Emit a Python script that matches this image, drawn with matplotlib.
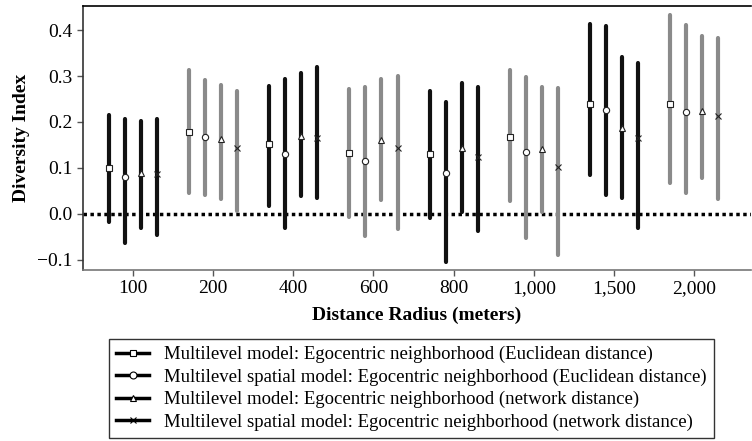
import matplotlib.pyplot as plt
import numpy as np

plt.rcParams['font.family'] = ['Liberation Serif', 'DejaVu Serif']

radius = ['100', '200', '400', '600', '800', '1,000', '1,500', '2,000']
labels = ['Multilevel model: Egocentric neighborhood (Euclidean distance)',
          'Multilevel spatial model: Egocentric neighborhood (Euclidean distance)',
          'Multilevel model: Egocentric neighborhood (network distance)',
          'Multilevel spatial model: Egocentric neighborhood (network distance)']
markers = ['s', 'o', '^', 'x']

# point estimates, lower and upper bounds per model (rows) and radius (columns)
est = np.array([
    [0.100, 0.179, 0.152, 0.133, 0.130, 0.167, 0.238, 0.238],
    [0.081, 0.168, 0.130, 0.115, 0.088, 0.135, 0.227, 0.222],
    [0.088, 0.162, 0.170, 0.160, 0.144, 0.141, 0.187, 0.223],
    [0.086, 0.143, 0.165, 0.143, 0.123, 0.103, 0.166, 0.212],
])
lower = np.array([
    [-0.017, 0.045, 0.016, -0.006, -0.009, 0.027, 0.085, 0.068],
    [-0.063, 0.041, -0.031, -0.049, -0.104, -0.053, 0.041, 0.046],
    [-0.030, 0.033, 0.038, 0.030, 0.005, 0.003, 0.035, 0.079],
    [-0.046, 0.007, 0.034, -0.033, -0.037, -0.089, -0.031, 0.032],
])
upper = np.array([
    [0.215, 0.313, 0.278, 0.271, 0.268, 0.313, 0.413, 0.433],
    [0.207, 0.291, 0.293, 0.277, 0.243, 0.297, 0.409, 0.411],
    [0.203, 0.280, 0.306, 0.293, 0.285, 0.275, 0.342, 0.388],
    [0.206, 0.267, 0.320, 0.300, 0.275, 0.273, 0.329, 0.383],
])

fig = plt.figure(figsize=(7.52, 4.41), dpi=100)
ax = fig.add_axes([0.110, 0.388, 0.889, 0.598])

xs = np.arange(1, len(radius) + 1)
offsets = [-0.3, -0.1, 0.1, 0.3]

ax.axhline(0, color='black', ls=(0, (1, 1)), lw=2.5, zorder=1)

for g in range(len(radius)):
    col = '#111111' if g % 2 == 0 else '#8a8a8a'
    for m in range(4):
        x = xs[g] + offsets[m]
        ax.plot([x, x], [lower[m, g], upper[m, g]], color=col, lw=3, zorder=2,
                solid_capstyle='round')
        ax.plot(x, est[m, g], marker=markers[m], ms=4.5, mfc='white',
                mec='#222222', mew=0.8, ls='none', zorder=3)

ax.set_xlim(0.375, 8.71)
ax.set_ylim(-0.122, 0.452)
ax.set_xticks(xs)
ax.set_xticklabels(radius)
ax.set_yticks([-0.1, 0.0, 0.1, 0.2, 0.3, 0.4])
ax.set_yticklabels(['\u22120.1', '0.0', '0.1', '0.2', '0.3', '0.4'])
ax.tick_params(labelsize=14, color='#555555', length=4, width=1)

ax.spines['right'].set_visible(False)
ax.spines['left'].set_color('#333333')
ax.spines['bottom'].set_color('#777777')
ax.spines['top'].set_color('black')
for s in ax.spines.values():
    s.set_linewidth(1.2)

ax.set_xlabel('Distance Radius (meters)', fontsize=14, fontweight='bold', labelpad=7)
ax.set_ylabel('Diversity Index', fontsize=14, fontweight='bold', labelpad=5)

handles = [plt.Line2D([], [], color='black', lw=2.5, marker=mk, ms=5,
                      mfc='white', mec='black', mew=0.8) for mk in markers]
leg = fig.legend(handles, labels, loc='upper center', bbox_to_anchor=(0.547, 0.231),
                 borderaxespad=0, fontsize=13.5, frameon=True, fancybox=False,
                 edgecolor='black', handlelength=1.8, labelspacing=0.28,
                 borderpad=0.36, handletextpad=0.8)
leg.get_frame().set_linewidth(1.0)

fig.savefig('out.png', dpi=100)
